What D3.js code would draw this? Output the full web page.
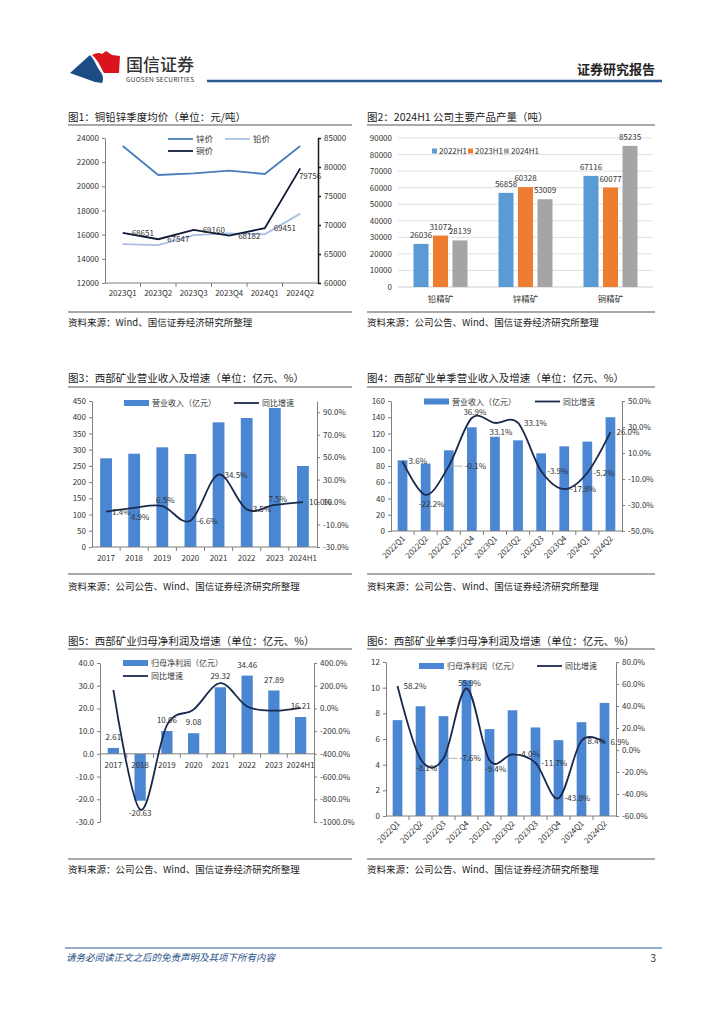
<!DOCTYPE html>
<html>
<head>
<meta charset="utf-8">
<script src="https://cdn.jsdelivr.net/npm/d3@7"></script>
<style>
  body { margin: 0; background: #fff; }
  svg { display: block; }
</style>
</head>
<body>
<svg id="page" width="724" height="1024"></svg>
<script>
// ---------- data ----------
// 图1 铜铅锌季度均价
const priceQuarters = ["2023Q1", "2023Q2", "2023Q3", "2023Q4", "2024Q1", "2024Q2"];
const zincPrice = [23340, 20940, 21080, 21300, 21020, 23340];
const leadPrice = [15225, 15140, 15970, 16110, 16030, 17740];
const copperPrice = [68651, 67547, 69160, 68182, 69451, 79756];
const priceLeftTicks = [12000, 14000, 16000, 18000, 20000, 22000, 24000];
const priceRightTicks = [60000, 65000, 70000, 75000, 80000, 85000];

// 图2 主要产品产量
const products = ["铅精矿", "锌精矿", "铜精矿"];
const outputPeriods = ["2022H1", "2023H1", "2024H1"];
const output2022H1 = [26036, 56858, 67116];
const output2023H1 = [31072, 60328, 60077];
const output2024H1 = [28139, 53009, 85235];
const outputTicks = [0, 10000, 20000, 30000, 40000, 50000, 60000, 70000, 80000, 90000];

// 图3 营业收入
const years = ["2017", "2018", "2019", "2020", "2021", "2022", "2023", "2024H1"];
const revenue = [273.4, 287.6, 307.2, 286.6, 384.2, 397.6, 428.5, 249.6];
const revenueGrowth = [1.4, 4.9, 6.5, -6.6, 34.5, 3.5, 7.5, 10.0];
const revLeftTicks = [0, 50, 100, 150, 200, 250, 300, 350, 400, 450];
const revRightTicks = [-30, -10, 10, 30, 50, 70, 90];

// 图4 单季营业收入
const quarters = ["2022Q1", "2022Q2", "2022Q3", "2022Q4", "2023Q1", "2023Q2", "2023Q3", "2023Q4", "2024Q1", "2024Q2"];
const qRevenue = [87.0, 83.0, 99.3, 127.6, 116.0, 111.6, 95.6, 104.2, 110.0, 140.0];
const qRevenueGrowth = [3.6, -22.2, -0.1, 36.9, 33.1, 33.1, -3.9, -17.8, -5.2, 26.0];
const qRevLeftTicks = [0, 20, 40, 60, 80, 100, 120, 140, 160];
const qRevRightTicks = [-50, -30, -10, 10, 30, 50];

// 图5 归母净利润
const profit = [2.61, -20.63, 10.06, 9.08, 29.32, 34.46, 27.89, 16.21];
const profitGrowth = [163.6, -890.4, -148.8, -9.7, 222.9, 17.5, -19.1, 5.6];
const profitLeftTicks = [-30, -20, -10, 0, 10, 20, 30, 40];
const profitRightTicks = [-1000, -800, -600, -400, -200, 0, 200, 400];

// 图6 单季归母净利润
const qProfit = [7.47, 8.55, 7.78, 10.58, 6.77, 8.24, 6.90, 5.91, 7.31, 8.81];
const qProfitGrowth = [58.2, -8.1, -7.6, 55.9, -9.4, -4.0, -11.7, -43.8, 8.4, 6.9];
const qProfitLeftTicks = [0, 2, 4, 6, 8, 10, 12];
const qProfitRightTicks = [-60, -40, -20, 0, 20, 40, 60, 80];

// ---------- common ----------
const FONT = '"Noto Sans CJK SC", "Noto Sans", sans-serif';
const AX = "#7f7f7f";
const BAR = "#4a86d2";
const NAVY = "#1b2a4a";
const svg = d3.select("#page").attr("font-family", FONT);

const pct = d => d.toFixed(1) + "%";

function panel(x, w, ys, title, source) {
  svg.append("text").attr("x", x).attr("y", ys[0])
    .attr("font-size", 10.5).attr("fill", "#222").text(title);
  svg.append("line").attr("x1", x).attr("x2", x + w).attr("y1", ys[1]).attr("y2", ys[1])
    .attr("stroke", "#555").attr("stroke-width", 1.2);
  svg.append("line").attr("x1", x).attr("x2", x + w).attr("y1", ys[2]).attr("y2", ys[2])
    .attr("stroke", "#555").attr("stroke-width", 1.2);
  svg.append("text").attr("x", x).attr("y", ys[3])
    .attr("font-size", 9.5).attr("fill", "#222").text(source);
}

function styleAxis(g, color, width) {
  g.attr("font-family", FONT).attr("font-size", 8);
  g.select(".domain").attr("stroke", color).attr("stroke-width", width || 1);
  g.selectAll(".tick line").attr("stroke", color).attr("stroke-width", width || 1);
  g.selectAll(".tick text").attr("fill", "#333");
}

// ---------- header / footer ----------
svg.append("path")
  .attr("d", "M70,73 L90,55 C95,60 96,66 100,71 C103,75 104,79 102,83 L95,82 Z")
  .attr("fill", "#1d4b86");
svg.append("path")
  .attr("d", "M92,55 C96,53 99,52 102,54 L106,51 L112,55 L120,56 L119,73 L104,73 C101,68 99,61 92,55 Z")
  .attr("fill", "#d9141e");
svg.append("text").attr("x", 126).attr("y", 71).attr("font-size", 17).attr("fill", "#333")
  .attr("font-weight", 500).text("国信证券");
svg.append("text").attr("x", 126).attr("y", 82).attr("font-size", 6.5).attr("fill", "#333")
  .attr("textLength", 68).text("GUOSEN SECURITIES");
svg.append("text").attr("x", 655).attr("y", 74).attr("text-anchor", "end").attr("font-size", 13)
  .attr("font-weight", 700).attr("fill", "#222").text("证券研究报告");
svg.append("line").attr("x1", 207).attr("x2", 662).attr("y1", 81).attr("y2", 81)
  .attr("stroke", "#2a5a94").attr("stroke-width", 2.5);

svg.append("line").attr("x1", 65).attr("x2", 662).attr("y1", 948).attr("y2", 948)
  .attr("stroke", "#2e5f97").attr("stroke-width", 1.2);
svg.append("text").attr("x", 66).attr("y", 961).attr("font-size", 9.5).attr("font-style", "italic")
  .attr("fill", "#2a4f8a").text("请务必阅读正文之后的免责声明及其项下所有内容");
svg.append("text").attr("x", 656).attr("y", 962).attr("text-anchor", "end").attr("font-size", 10)
  .attr("fill", "#333").text("3");

// ---------- panels ----------
const row1 = [121, 125, 312, 326];
const row2 = [382, 387, 574, 590];
const row3 = [645, 649, 859, 873];
panel(68, 284, row1, "图1：铜铅锌季度均价（单位：元/吨）", "资料来源：Wind、国信证券经济研究所整理");
panel(367, 288, row1, "图2：2024H1 公司主要产品产量（吨）", "资料来源：公司公告、Wind、国信证券经济研究所整理");
panel(68, 284, row2, "图3：西部矿业营业收入及增速（单位：亿元、%）", "资料来源：公司公告、Wind、国信证券经济研究所整理");
panel(367, 288, row2, "图4：西部矿业单季营业收入及增速（单位：亿元、%）", "资料来源：公司公告、Wind、国信证券经济研究所整理");
panel(68, 284, row3, "图5：西部矿业归母净利润及增速（单位：亿元、%）", "资料来源：公司公告、Wind、国信证券经济研究所整理");
panel(367, 288, row3, "图6：西部矿业单季归母净利润及增速（单位：亿元、%）", "资料来源：公司公告、Wind、国信证券经济研究所整理");

// ---------- 图1 ----------
(function priceChart() {
  const x0 = 105, x1 = 318, y0 = 138, y1 = 283;
  const x = d3.scaleBand().domain(priceQuarters).range([x0, x1]);
  const cx = c => x(c) + x.bandwidth() / 2;
  const yL = d3.scaleLinear().domain([12000, 24000]).range([y1, y0]);
  const yR = d3.scaleLinear().domain([60000, 85000]).range([y1, y0]);

  const gl = svg.append("g").attr("transform", `translate(${x0},0)`)
    .call(d3.axisLeft(yL).tickValues(priceLeftTicks).tickSize(3).tickSizeOuter(0).tickFormat(d3.format("d")));
  styleAxis(gl, AX);
  const gr = svg.append("g").attr("transform", `translate(${x1},0)`)
    .call(d3.axisRight(yR).tickValues(priceRightTicks).tickSize(3).tickSizeOuter(0).tickFormat(d3.format("d")));
  styleAxis(gr, "#1a1a1a", 1.5);

  svg.append("line").attr("x1", x0).attr("x2", x1).attr("y1", y1).attr("y2", y1).attr("stroke", AX);
  svg.append("g").selectAll("line").data(priceQuarters.slice(1)).join("line")
    .attr("x1", d => x(d)).attr("x2", d => x(d)).attr("y1", y1).attr("y2", y1 + 4).attr("stroke", AX);
  svg.append("g").selectAll("text").data(priceQuarters).join("text")
    .attr("x", d => cx(d)).attr("y", y1 + 13).attr("text-anchor", "middle")
    .attr("font-size", 8).attr("fill", "#333").text(d => d);

  const series = [
    { vals: zincPrice, y: yL, color: "#4a7ebb" },
    { vals: leadPrice, y: yL, color: "#a9bfe3" },
    { vals: copperPrice, y: yR, color: "#0e1a36" }
  ];
  series.forEach(s => {
    const line = d3.line().x((d, i) => cx(priceQuarters[i])).y(d => s.y(d));
    svg.append("path").datum(s.vals).attr("d", line).attr("fill", "none")
      .attr("stroke", s.color).attr("stroke-width", 1.8);
  });
  // copper labels sit to the right of the points, kept inside the plot
  svg.append("g").selectAll("text").data(copperPrice).join("text")
    .attr("x", (d, i) => Math.min(cx(priceQuarters[i]) + 20, x1 - 8))
    .attr("y", (d, i) => yR(d) + (cx(priceQuarters[i]) + 20 > x1 - 8 ? 11 : 3))
    .attr("text-anchor", "middle").attr("font-size", 8).attr("fill", "#333").text(d => d);

  const legend = [
    { name: "锌价", color: "#4a7ebb", lx: 168, ly: 139 },
    { name: "铅价", color: "#a9bfe3", lx: 225, ly: 139 },
    { name: "铜价", color: "#0e1a36", lx: 168, ly: 151 }
  ];
  legend.forEach(l => {
    svg.append("line").attr("x1", l.lx).attr("x2", l.lx + 25).attr("y1", l.ly).attr("y2", l.ly)
      .attr("stroke", l.color).attr("stroke-width", 1.8);
    svg.append("text").attr("x", l.lx + 28).attr("y", l.ly + 3).attr("font-size", 8.5)
      .attr("fill", "#333").text(l.name);
  });
})();

// ---------- 图2 ----------
(function outputChart() {
  const x0 = 398, x1 = 653, y0 = 138, y1 = 287;
  const x = d3.scaleBand().domain(products).range([x0, x1]);
  const inner = d3.scaleBand().domain(outputPeriods).range([0, 54]).paddingInner(0.23);
  const off = (x.bandwidth() - 54) / 2;
  const y = d3.scaleLinear().domain([0, 90000]).range([y1, y0]);
  const colors = ["#5b9bd5", "#ed7d31", "#a5a5a5"];
  const seriesVals = [output2022H1, output2023H1, output2024H1];

  svg.append("g").selectAll("line").data(outputTicks).join("line")
    .attr("x1", x0).attr("x2", x1).attr("y1", d => y(d)).attr("y2", d => y(d))
    .attr("stroke", d => d === 0 ? "#bfbfbf" : "#d9d9d9").attr("stroke-width", 0.8);
  svg.append("g").selectAll("text").data(outputTicks).join("text")
    .attr("x", x0 - 6).attr("y", d => y(d) + 3).attr("text-anchor", "end")
    .attr("font-size", 8).attr("fill", "#333").text(d => d);

  seriesVals.forEach((vals, k) => {
    const g = svg.append("g");
    g.selectAll("rect").data(vals).join("rect")
      .attr("x", (d, i) => x(products[i]) + off + inner(outputPeriods[k]))
      .attr("y", d => y(d)).attr("width", inner.bandwidth())
      .attr("height", d => y(0) - y(d)).attr("fill", colors[k]);
    g.selectAll("text").data(vals).join("text")
      .attr("x", (d, i) => x(products[i]) + off + inner(outputPeriods[k]) + inner.bandwidth() / 2)
      .attr("y", d => y(d) - 6).attr("text-anchor", "middle")
      .attr("font-size", 8).attr("fill", "#333").text(d => d);
  });

  svg.append("g").selectAll("text").data(products).join("text")
    .attr("x", d => x(d) + x.bandwidth() / 2).attr("y", y1 + 15).attr("text-anchor", "middle")
    .attr("font-size", 8.5).attr("fill", "#333").text(d => d);

  const lx = [432, 468, 504];
  outputPeriods.forEach((p, k) => {
    svg.append("rect").attr("x", lx[k]).attr("y", 148.5).attr("width", 5).attr("height", 5).attr("fill", colors[k]);
    svg.append("text").attr("x", lx[k] + 7).attr("y", 154).attr("font-size", 8)
      .attr("fill", "#333").text(p);
  });
})();

// ---------- bar + line combo ----------
// label placement: r = right, a = above, b = below, l = right with leader line
function combo(o) {
  const x = d3.scaleBand().domain(o.cats).range([o.x0, o.x1]);
  const cx = c => x(c) + x.bandwidth() / 2;
  const yL = d3.scaleLinear().domain(o.left).range([o.y1, o.y0]);
  const yR = d3.scaleLinear().domain(o.right).range([o.y1, o.y0]);
  const bw = x.bandwidth() * 0.42;
  const base = yL(0);

  svg.append("g").selectAll("rect").data(o.bars).join("rect")
    .attr("x", (d, i) => cx(o.cats[i]) - bw / 2)
    .attr("y", d => yL(Math.max(0, d)))
    .attr("width", bw)
    .attr("height", d => Math.abs(yL(d) - base))
    .attr("fill", BAR);

  const gl = svg.append("g").attr("transform", `translate(${o.x0},0)`)
    .call(d3.axisLeft(yL).tickValues(o.leftTicks).tickFormat(o.leftFmt).tickSize(3).tickSizeOuter(0));
  styleAxis(gl, AX);
  const gr = svg.append("g").attr("transform", `translate(${o.x1},0)`)
    .call(d3.axisRight(yR).tickValues(o.rightTicks).tickFormat(pct).tickSize(3).tickSizeOuter(0));
  styleAxis(gr, AX);

  svg.append("line").attr("x1", o.x0).attr("x2", o.x1).attr("y1", base).attr("y2", base).attr("stroke", AX);
  svg.append("g").selectAll("line").data(o.cats.slice(1)).join("line")
    .attr("x1", d => x(d)).attr("x2", d => x(d)).attr("y1", base).attr("y2", base + 4).attr("stroke", AX);

  const xl = svg.append("g").selectAll("text").data(o.cats).join("text")
    .attr("font-size", 8).attr("fill", "#333").text(d => d);
  if (o.rotate) {
    xl.attr("text-anchor", "end")
      .attr("transform", d => `translate(${cx(d) + 3},${base + 8}) rotate(-45)`);
  } else {
    xl.attr("text-anchor", "middle").attr("x", d => cx(d)).attr("y", base + 14);
  }

  const line = d3.line().x((d, i) => cx(o.cats[i])).y(d => yR(d)).curve(d3.curveCardinal.tension(0));
  svg.append("path").datum(o.line).attr("d", line).attr("fill", "none")
    .attr("stroke", NAVY).attr("stroke-width", 1.8);

  if (o.place) {
    const g = svg.append("g").attr("font-size", 8).attr("fill", "#333");
    o.line.forEach((v, i) => {
      const px = cx(o.cats[i]), py = yR(v), p = o.place[i];
      const t = g.append("text").text(v.toFixed(1) + "%");
      if (p === "a") t.attr("x", px + 3).attr("y", py - 3).attr("text-anchor", "middle");
      else if (p === "b") t.attr("x", px + 6).attr("y", py + 12).attr("text-anchor", "middle");
      else if (p === "l") {
        g.append("line").attr("x1", px + 2).attr("x2", px + 14).attr("y1", py).attr("y2", py)
          .attr("stroke", "#a6a6a6").attr("stroke-width", 0.8);
        t.attr("x", px + 16).attr("y", py + 3);
      } else t.attr("x", px + 6).attr("y", py + 3);
    });
  }

  if (o.barLabels) {
    svg.append("g").selectAll("text").data(o.bars).join("text")
      .attr("x", (d, i) => cx(o.cats[i])).attr("y", d => d >= 0 ? yL(d) - 8 : yL(d) + 15)
      .attr("text-anchor", "middle").attr("font-size", 8).attr("fill", "#333").text(d => d.toFixed(2));
  }

  const lg = o.legend;
  svg.append("rect").attr("x", lg.bx).attr("y", lg.by - 3).attr("width", 25).attr("height", 6).attr("fill", BAR);
  svg.append("text").attr("x", lg.bx + 28).attr("y", lg.by + 3).attr("font-size", 8)
    .attr("fill", "#333").text(lg.barName);
  svg.append("line").attr("x1", lg.lx).attr("x2", lg.lx + 25).attr("y1", lg.ly).attr("y2", lg.ly)
    .attr("stroke", NAVY).attr("stroke-width", 1.8);
  svg.append("text").attr("x", lg.lx + 28).attr("y", lg.ly + 3).attr("font-size", 8)
    .attr("fill", "#333").text("同比增速");
}

combo({
  cats: years, bars: revenue, line: revenueGrowth,
  place: ["r", "b", "a", "r", "r", "r", "a", "r"],
  x0: 92, x1: 317, y0: 401, y1: 547,
  left: [0, 450], leftTicks: revLeftTicks, leftFmt: d3.format("d"),
  right: [-30, 100], rightTicks: revRightTicks,
  legend: { bx: 124, by: 403, barName: "营业收入（亿元）", lx: 234, ly: 403 }
});

combo({
  cats: quarters, bars: qRevenue, line: qRevenueGrowth,
  place: ["r", "b", "l", "a", "b", "r", "r", "r", "r", "r"],
  x0: 391, x1: 622, y0: 401, y1: 531, rotate: true,
  left: [0, 160], leftTicks: qRevLeftTicks, leftFmt: d3.format("d"),
  right: [-50, 50], rightTicks: qRevRightTicks,
  legend: { bx: 424, by: 401.5, barName: "营业收入（亿元）", lx: 535, ly: 401.5 }
});

combo({
  cats: years, bars: profit, line: profitGrowth, barLabels: true,
  x0: 100, x1: 314, y0: 663, y1: 822,
  left: [-30, 40], leftTicks: profitLeftTicks, leftFmt: d => d.toFixed(1),
  right: [-1000, 400], rightTicks: profitRightTicks,
  legend: { bx: 123, by: 663, barName: "归母净利润（亿元）", lx: 123, ly: 676 }
});

combo({
  cats: quarters, bars: qProfit, line: qProfitGrowth,
  place: ["r", "b", "l", "a", "b", "r", "r", "r", "r", "r"],
  x0: 386, x1: 616, y0: 662, y1: 816, rotate: true,
  left: [0, 12], leftTicks: qProfitLeftTicks, leftFmt: d3.format("d"),
  right: [-60, 80], rightTicks: qProfitRightTicks,
  legend: { bx: 419, by: 666, barName: "归母净利润（亿元）", lx: 537, ly: 666 }
});
</script>
</body>
</html>
